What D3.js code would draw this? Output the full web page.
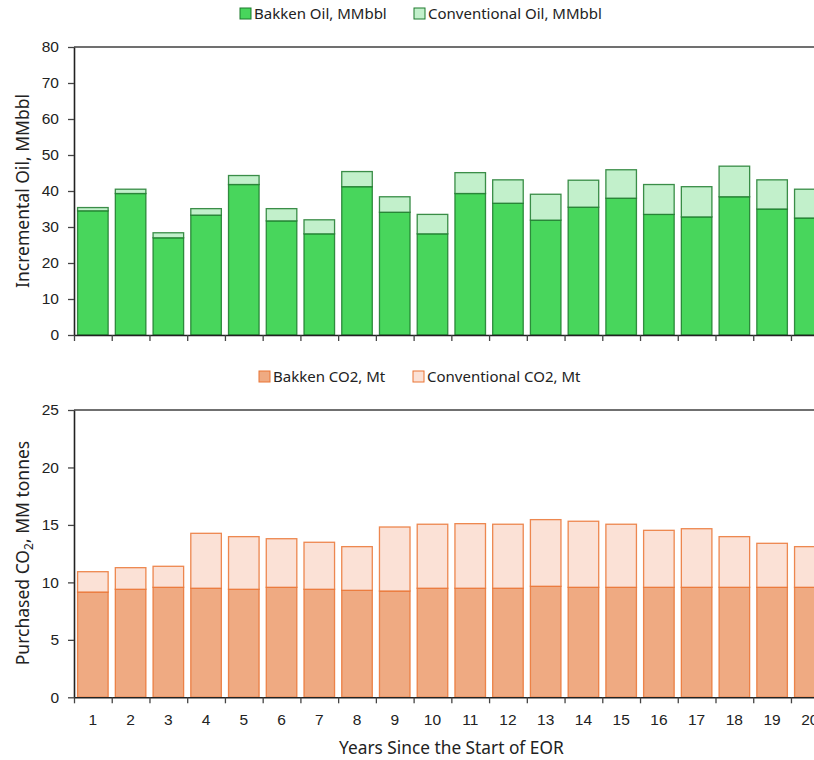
<!DOCTYPE html>
<html>
<head>
<meta charset="utf-8">
<script src="https://cdn.jsdelivr.net/npm/d3@7"></script>
<style>
  html, body { margin: 0; padding: 0; background: #fff; overflow: hidden; }
  svg { display: block; font-family: "Noto Sans", sans-serif; }
</style>
</head>
<body>
<svg id="chart" width="814" height="760"></svg>
<script>
// Years since start of EOR
const years = d3.range(1, 21);

// Incremental oil, MMbbl
const bakkenOil = [34.5, 39.3, 27.0, 33.3, 41.8, 31.7, 28.1, 41.2, 34.1, 28.1,
                   39.3, 36.6, 31.9, 35.5, 38.0, 33.5, 32.8, 38.4, 35.0, 32.5];
const conventionalOil = [0.9, 1.2, 1.4, 1.8, 2.5, 3.4, 3.9, 4.2, 4.3, 5.4,
                         5.8, 6.5, 7.2, 7.5, 7.9, 8.3, 8.4, 8.5, 8.1, 8.0];

// Purchased CO2, Mt
const bakkenCO2 = [9.16, 9.40, 9.57, 9.49, 9.40, 9.57, 9.40, 9.31, 9.25, 9.49,
                   9.49, 9.49, 9.66, 9.57, 9.57, 9.57, 9.57, 9.57, 9.57, 9.57];
const conventionalCO2 = [1.77, 1.88, 1.83, 4.78, 4.58, 4.23, 4.09, 3.80, 5.57, 5.57,
                         5.62, 5.57, 5.80, 5.75, 5.49, 4.96, 5.10, 4.41, 3.83, 3.54];

const oilTicks = d3.range(0, 81, 10);
const co2Ticks = d3.range(0, 26, 5);

const svg = d3.select("#chart");
const left = 74, right = 828.7;

const x = d3.scaleBand().domain(years).range([left, right])
  .paddingInner(0.19).paddingOuter(0.095);
const xEdge = d3.scaleLinear().domain([0, years.length]).range([left, right]);

function panel(cfg) {
  const y = d3.scaleLinear().domain(cfg.domain).range([cfg.bottom, cfg.top]);
  const g = svg.append("g");

  // stacked bars
  const rows = years.map((yr, i) => ({ year: yr, a: cfg.a[i], b: cfg.b[i] }));
  const stack = d3.stack().keys(["a", "b"])(rows);
  stack.forEach((layer, li) => {
    g.append("g").selectAll("rect").data(layer).join("rect")
      .attr("x", d => x(d.data.year))
      .attr("width", x.bandwidth())
      .attr("y", d => y(d[1]))
      .attr("height", d => y(d[0]) - y(d[1]))
      .attr("fill", cfg.fills[li])
      .attr("stroke", cfg.stroke)
      .attr("stroke-opacity", 0.85)
      .attr("stroke-width", 1.3);
  });

  // top frame line
  g.append("line")
    .attr("x1", left).attr("x2", 814)
    .attr("y1", cfg.top).attr("y2", cfg.top)
    .attr("stroke", "#404040").attr("stroke-width", 1.5);

  // y axis
  const ya = g.append("g").attr("transform", `translate(${left},0)`)
    .call(d3.axisLeft(y).tickValues(cfg.ticks).tickSize(6).tickSizeOuter(0).tickPadding(9));
  ya.select(".domain").attr("stroke", "#222").attr("stroke-width", 1.6);
  ya.selectAll(".tick line").attr("stroke", "#444").attr("stroke-width", 1.3);
  ya.selectAll("text").attr("font-size", 15.5).attr("fill", "#222");

  // x axis: tick marks at category edges
  const xa = g.append("g").attr("transform", `translate(0,${cfg.bottom})`)
    .call(d3.axisBottom(xEdge).tickValues(d3.range(0, years.length + 1)).tickFormat("").tickSize(6).tickSizeOuter(0));
  xa.select(".domain").attr("stroke", "#222").attr("stroke-width", 1.6);
  xa.selectAll(".tick line").attr("stroke", "#444").attr("stroke-width", 1.3);

  if (cfg.labels) {
    const xl = g.append("g").attr("transform", `translate(0,${cfg.bottom})`)
      .call(d3.axisBottom(x).tickSize(0).tickPadding(17));
    xl.select(".domain").remove();
    xl.selectAll("text").attr("font-size", 15.5).attr("fill", "#222");
  }

  // legend
  const lg = g.append("g").attr("font-size", 15).attr("fill", "#222");
  cfg.legend.forEach((item, i) => {
    const lx = cfg.legendX[i];
    lg.append("rect")
      .attr("x", lx).attr("y", cfg.legendY - 6)
      .attr("width", 11).attr("height", 11)
      .attr("fill", cfg.fills[i]).attr("stroke", cfg.stroke).attr("stroke-width", 1);
    lg.append("text")
      .attr("x", lx + 14).attr("y", cfg.legendY)
      .attr("dy", "0.35em").text(item);
  });

  return y;
}

panel({
  domain: [0, 80], top: 47, bottom: 335, ticks: oilTicks,
  a: bakkenOil, b: conventionalOil,
  fills: ["#48d65c", "#c2f0cb"], stroke: "#1c7a2c",
  legend: ["Bakken Oil, MMbbl", "Conventional Oil, MMbbl"],
  legendX: [240, 414], legendY: 14, labels: false
});

panel({
  domain: [0, 25], top: 410, bottom: 697.3, ticks: co2Ticks,
  a: bakkenCO2, b: conventionalCO2,
  fills: ["#efaa82", "#fbe1d6"], stroke: "#ea7434",
  legend: ["Bakken CO2, Mt", "Conventional CO2, Mt"],
  legendX: [259, 413], legendY: 377, labels: true
});

// axis titles
svg.append("text")
  .attr("transform", "translate(23,191) rotate(-90)")
  .attr("text-anchor", "middle").attr("dy", "0.35em")
  .attr("font-size", 17.5).attr("fill", "#222")
  .text("Incremental Oil, MMbbl");

const t2 = svg.append("text")
  .attr("transform", "translate(23,553) rotate(-90)")
  .attr("text-anchor", "middle").attr("dy", "0.35em")
  .attr("font-size", 17.5).attr("fill", "#222");
t2.append("tspan").text("Purchased CO");
t2.append("tspan").attr("font-size", 12).attr("dy", "0.35em").text("2");
t2.append("tspan").attr("dy", "-0.25em").text(", MM tonnes");

svg.append("text")
  .attr("x", (left + right) / 2).attr("y", 748)
  .attr("text-anchor", "middle").attr("dy", "0.35em")
  .attr("font-size", 17.3).attr("fill", "#222")
  .text("Years Since the Start of EOR");
</script>
</body>
</html>
